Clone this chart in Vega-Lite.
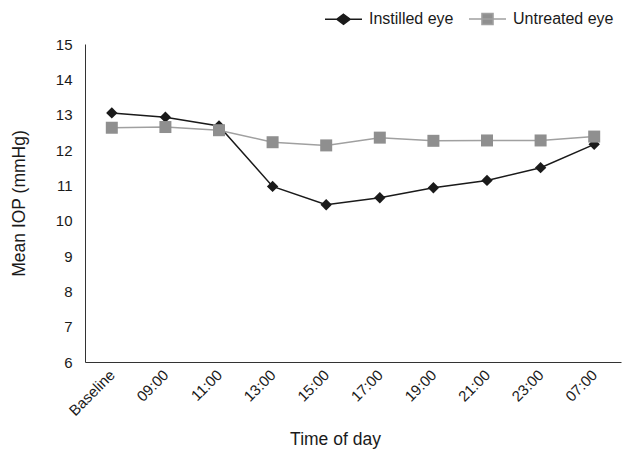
{
  "$schema": "https://vega.github.io/schema/vega-lite/v6.json",
  "width": 536,
  "height": 318,
  "autosize": "none",
  "padding": {"left": 85, "top": 44, "right": 2, "bottom": 91},
  "background": "white",
  "config": {
    "view": {"stroke": null},
    "font": "Liberation Sans",
    "axis": {"labelFont": "Liberation Sans", "titleFont": "Liberation Sans", "labelColor": "#1a1a1a", "titleColor": "#1a1a1a", "titleFontWeight": "normal", "domainColor": "#333", "grid": false, "ticks": false}
  },
  "data": {
    "values": [
      {"time": "Baseline", "group": "Instilled eye", "iop": 13.05},
      {"time": "09:00", "group": "Instilled eye", "iop": 12.93},
      {"time": "11:00", "group": "Instilled eye", "iop": 12.68},
      {"time": "13:00", "group": "Instilled eye", "iop": 10.97},
      {"time": "15:00", "group": "Instilled eye", "iop": 10.45},
      {"time": "17:00", "group": "Instilled eye", "iop": 10.65},
      {"time": "19:00", "group": "Instilled eye", "iop": 10.93},
      {"time": "21:00", "group": "Instilled eye", "iop": 11.14},
      {"time": "23:00", "group": "Instilled eye", "iop": 11.5},
      {"time": "07:00", "group": "Instilled eye", "iop": 12.16},
      {"time": "Baseline", "group": "Untreated eye", "iop": 12.63},
      {"time": "09:00", "group": "Untreated eye", "iop": 12.65},
      {"time": "11:00", "group": "Untreated eye", "iop": 12.56},
      {"time": "13:00", "group": "Untreated eye", "iop": 12.22},
      {"time": "15:00", "group": "Untreated eye", "iop": 12.13},
      {"time": "17:00", "group": "Untreated eye", "iop": 12.35},
      {"time": "19:00", "group": "Untreated eye", "iop": 12.26},
      {"time": "21:00", "group": "Untreated eye", "iop": 12.27},
      {"time": "23:00", "group": "Untreated eye", "iop": 12.27},
      {"time": "07:00", "group": "Untreated eye", "iop": 12.38}
    ]
  },
  "encoding": {
    "x": {
      "field": "time", "type": "ordinal", "sort": null,
      "scale": {"type": "point", "padding": 0.5},
      "axis": {"title": "Time of day", "labelAngle": -45, "labelAlign": "right", "labelBaseline": "middle", "labelPadding": 10, "labelFontSize": 15, "titleFontSize": 17.5, "titleX": 250, "titleY": 68, "titleAlign": "center", "titleBaseline": "top"}
    },
    "y": {
      "field": "iop", "type": "quantitative",
      "scale": {"domain": [6, 15], "nice": false, "zero": false},
      "axis": {"title": "Mean IOP (mmHg)", "values": [6,7,8,9,10,11,12,13,14,15], "labelFontSize": 15, "titleFontSize": 17.5, "labelPadding": 13, "titlePadding": 27}
    }
  },
  "layer": [
    {
      "mark": {"type": "line", "strokeWidth": 1.5},
      "encoding": {
        "color": {
          "field": "group", "type": "nominal",
          "scale": {"domain": ["Instilled eye", "Untreated eye"], "range": ["#1a1a1a", "#a0a0a0"]},
          "legend": {
            "title": null, "orient": "none", "direction": "horizontal",
            "legendX": 239, "legendY": -45,
            "labelFontSize": 16, "labelColor": "#1a1a1a", "labelOffset": 6,
            "columnPadding": 12, "symbolSize": 1369, "symbolStrokeWidth": 1.5,
            "encode": {
              "symbols": {
                "update": {
                  "fill": {"signal": "datum.value === 'Instilled eye' ? '#1a1a1a' : '#8f8f8f'"},
                  "shape": {"signal": "datum.value === 'Instilled eye' ? 'M-1,0H1M0,-0.27L0.36,0L0,0.27L-0.36,0Z' : 'M-1,0H1M-0.3,-0.3H0.3V0.3H-0.3Z'"}
                }
              }
            }
          }
        }
      }
    },
    {
      "mark": {"type": "point", "filled": true, "opacity": 1},
      "encoding": {
        "shape": {
          "field": "group", "type": "nominal",
          "scale": {"domain": ["Instilled eye", "Untreated eye"], "range": ["diamond", "square"]},
          "legend": null
        },
        "color": {
          "field": "group", "type": "nominal",
          "scale": {"domain": ["Instilled eye", "Untreated eye"], "range": ["#1a1a1a", "#8f8f8f"]},
          "legend": null
        },
        "size": {
          "field": "group", "type": "nominal",
          "scale": {"domain": ["Instilled eye", "Untreated eye"], "range": [130, 144]},
          "legend": null
        }
      }
    }
  ],
  "resolve": {"scale": {"color": "independent"}}
}
